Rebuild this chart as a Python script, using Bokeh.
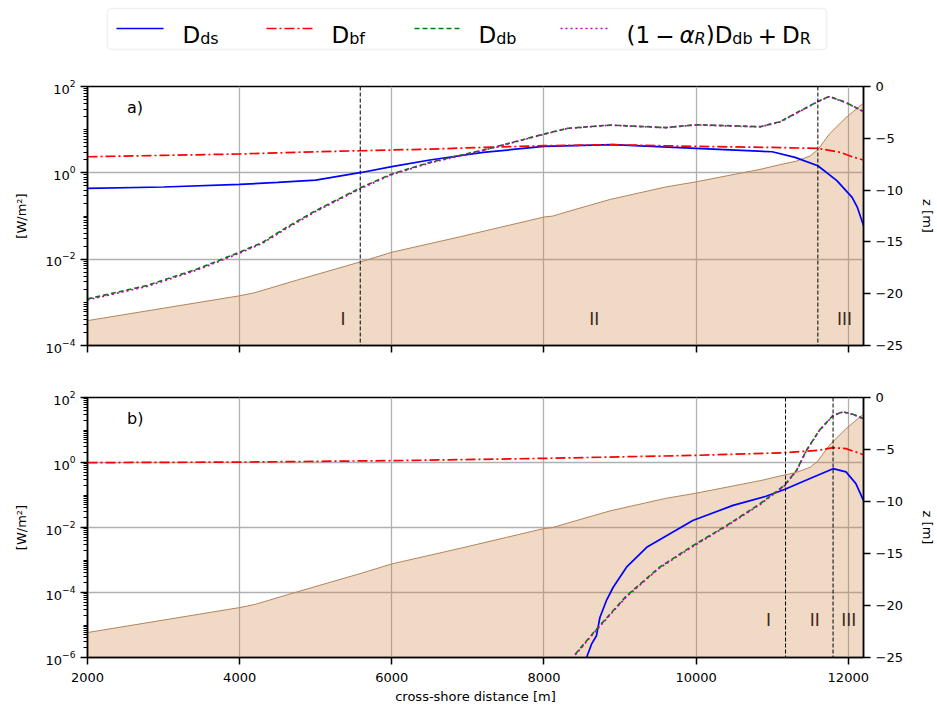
from bokeh.plotting import figure
from bokeh.models import (Range1d, LinearAxis, FixedTicker, Span, BoxAnnotation,
                          CustomJSTickFormatter, LinearScale)
from bokeh.layouts import column
from bokeh.embed import file_html
from bokeh.resources import INLINE
from bokeh.core.properties import value

FONT = "DejaVu Sans"

# ---------------- data ----------------
# bathymetry (shared by both panels), z in m
bath_x = [2000, 4000, 4200, 4750, 5600, 6000, 6900, 8000, 8120, 8300, 8870, 9600,
          10000, 10840, 11100, 11320, 11500, 11600, 11750, 11970, 12200]
bath_z = [-22.6, -20.2, -19.9, -18.7, -16.9, -16.0, -14.5, -12.6, -12.5, -12.1, -10.9, -9.7,
          -9.2, -8.0, -7.55, -7.2, -6.7, -6.1, -4.6, -3.0, -1.6]

# panel a)
a_bf_x = [2000, 3000, 4000, 5000, 5600, 6500, 7200, 8000, 8900, 10000, 11000, 11600, 11900, 12050, 12200]
a_bf_y = [2.36, 2.54, 2.73, 3.08, 3.25, 3.55, 3.88, 4.25, 4.48, 4.10, 3.88, 3.68, 2.97, 2.36, 1.98]

a_ds_x = [2000, 3000, 4000, 4500, 5000, 5600, 6000, 6500, 7200, 8000, 8900, 10000, 11000,
          11300, 11600, 11850, 12050, 12120, 12200]
a_ds_y = [0.436, 0.47, 0.54, 0.60, 0.68, 1.02, 1.39, 1.98, 2.97, 4.09, 4.48, 3.68, 3.08,
          2.28, 1.46, 0.66, 0.27, 0.158, 0.060]

a_db_x = [2000, 2780, 3440, 4000, 4300, 4620, 5000, 5600, 6000, 6500, 7200, 8000, 8300, 8870,
          9600, 10000, 10840, 11100, 11600, 11750, 11970, 12200]
a_db_y = [0.0012, 0.00245, 0.0059, 0.0145, 0.0245, 0.055, 0.133, 0.461, 0.94, 1.75, 3.37, 7.9,
          10.7, 12.8, 11.2, 13.0, 11.7, 15.2, 45.0, 58.7, 42.7, 26.3]
a_dr_y = [0.00114, 0.00233, 0.0056, 0.0138, 0.0233, 0.052, 0.127, 0.44, 0.91, 1.70, 3.30, 7.8,
          10.6, 12.7, 11.1, 12.9, 11.6, 15.0, 44.5, 58.0, 42.3, 26.0]

# panel b)
b_bf_x = [2000, 4000, 6000, 7200, 8000, 10000, 11160, 11600, 11800, 11970, 12200]
b_bf_y = [0.99, 1.03, 1.14, 1.25, 1.34, 1.66, 2.0, 2.37, 2.86, 2.67, 1.74]

b_ds_x = [8560, 8625, 8690, 8735, 8820, 8910, 9085, 9350, 9956, 10485, 10920, 11160, 11490,
          11800, 11970, 12100, 12200]
b_ds_y = [1.0e-6, 2.57e-6, 4.68e-6, 1.7e-5, 5.6e-5, 1.45e-4, 6.0e-4, 2.45e-3, 0.0164, 0.0479,
          0.0912, 0.148, 0.316, 0.646, 0.513, 0.224, 0.0676]

b_db_x = [8410, 8690, 9085, 9520, 9956, 10400, 10840, 11160, 11320, 11450, 11620, 11800, 11930,
          12060, 12200]
b_db_y = [1.26e-6, 7.4e-6, 7.9e-5, 6.0e-4, 2.75e-3, 0.0115, 0.0537, 0.197, 0.575, 2.37, 9.8,
          28.2, 36.3, 30.5, 22.4]
b_dr_y = [1.2e-6, 7.0e-6, 7.5e-5, 5.7e-4, 2.6e-3, 0.011, 0.051, 0.19, 0.56, 2.3, 9.6, 27.8,
          35.9, 30.2, 22.2]

# zone boundaries and zone labels
a_bounds = [5585, 11600]
b_bounds = [11175, 11800]
a_zone_x = [5360, 8660, 11950]
b_zone_x = [10950, 11560, 12005]
zone_text = ["I", "II", "III"]

x_ticks = [2000, 4000, 6000, 8000, 10000, 12000]
z_ticks = [0, -5, -10, -15, -20, -25]

# ---------------- styles ----------------
C_DS, C_BF, C_DB, C_DR = "#0000ff", "#ff0000", "#008000", "#bf00bf"
DASH_BF, DASH_DB, DASH_DR = "10 3 2 3", "5 3", "2 3"
LW = 1.7
TICK_FS = "13px"
FRAME_W = 776
LEFT, RIGHT = 87, 66
FRAME_L = LEFT
FRAME_R = LEFT + FRAME_W


def minor_log(lo, hi):
    out = []
    for e in range(lo, hi):
        for m in range(1, 10):
            v = m * 10.0 ** e
            if m == 1 and (e - lo) % 2 == 0:
                continue
            out.append(v)
    return out


def make_panel(ymin_exp, frame_h, bot_border, top_border, show_xlabels, label,
               bf_x, bf_y, ds_x, ds_y, db_x, db_y, dr_y, bounds, zone_x, zone_z):
    p = figure(frame_width=FRAME_W, frame_height=frame_h,
               x_range=Range1d(2000, 12200), y_range=Range1d(10.0 ** ymin_exp, 100),
               y_axis_type="log", toolbar_location=None, output_backend="svg",
               min_border_left=LEFT, min_border_right=RIGHT,
               min_border_top=top_border, min_border_bottom=bot_border)
    p.extra_y_ranges = {"z": Range1d(-25, 0)}
    p.extra_y_scales = {"z": LinearScale()}

    # bathymetry
    p.varea(x=bath_x, y1=-25, y2=bath_z, y_range_name="z",
            fill_color="peru", fill_alpha=0.3)
    p.line(bath_x, bath_z, y_range_name="z", line_color="#b5835a", line_width=1)

    for b in bounds:
        p.add_layout(Span(location=b, dimension="height", line_color="black",
                          line_width=1, line_dash="4 2"))

    p.line(ds_x, ds_y, line_color=C_DS, line_width=LW)
    p.line(bf_x, bf_y, line_color=C_BF, line_width=LW, line_dash=DASH_BF)
    p.line(db_x, db_y, line_color=C_DB, line_width=LW, line_dash=DASH_DB)
    p.line(db_x, dr_y, line_color=C_DR, line_width=LW, line_dash=DASH_DR)

    p.text(x=zone_x, y=[zone_z] * len(zone_x), text=zone_text, y_range_name="z",
           text_font=value(FONT), text_font_size="17px", text_color="#3d2617",
           text_align="center", text_baseline="middle")
    p.text(x=[2520], y=[-2.0], text=[label], y_range_name="z",
           text_font=value(FONT), text_font_size="16px", text_color="black",
           text_align="left", text_baseline="middle")

    # axes
    maj = [10.0 ** e for e in range(ymin_exp, 3, 2)]
    p.yaxis.ticker = FixedTicker(ticks=maj, minor_ticks=minor_log(ymin_exp, 2))
    p.xaxis.ticker = FixedTicker(ticks=x_ticks)
    zax = LinearAxis(y_range_name="z", axis_label="z [m]",
                     ticker=FixedTicker(ticks=z_ticks),
                     formatter=CustomJSTickFormatter(
                         code="return (tick < 0 ? '\u2212' : '') + Math.abs(tick).toFixed(0)"))
    p.add_layout(zax, "right")
    p.yaxis[0].axis_label = "[W/m\u00b2]"
    if show_xlabels:
        p.xaxis.axis_label = "cross-shore distance [m]"
    else:
        p.xaxis.formatter = CustomJSTickFormatter(code="return ''")
        p.xaxis.major_label_standoff = 0

    for ax in p.axis:
        ax.axis_line_width = 1.5
        ax.axis_line_color = "black"
        ax.major_tick_line_width = 1.5
        ax.major_tick_out = 7
        ax.major_tick_in = 0
        ax.minor_tick_out = 4
        ax.minor_tick_in = 0
        ax.minor_tick_line_width = 1
        ax.major_label_text_font = FONT
        ax.major_label_text_font_size = TICK_FS
        ax.major_label_text_color = "black"
        ax.axis_label_text_font = FONT
        ax.axis_label_text_font_size = TICK_FS
        ax.axis_label_text_font_style = "normal"
        ax.axis_label_text_color = "black"
    p.xaxis.minor_tick_line_color = None
    zax.minor_tick_line_color = None
    p.yaxis[0].axis_label_standoff = 14
    zax.axis_label_standoff = 14
    if show_xlabels:
        p.xaxis.axis_label_standoff = 4
        p.xaxis.major_label_standoff = 8

    p.grid.grid_line_color = "#b0b0b0"
    p.grid.grid_line_width = 1.3
    p.outline_line_color = "black"
    p.outline_line_width = 1.5
    p.background_fill_color = "white"
    p.border_fill_color = "white"
    return p


p1 = make_panel(-4, 259, 26, 8, False, "a)", a_bf_x, a_bf_y, a_ds_x, a_ds_y,
                a_db_x, a_db_y, a_dr_y, a_bounds, a_zone_x, -22.4)
p2 = make_panel(-6, 260, 48, 26, True, "b)", b_bf_x, b_bf_y, b_ds_x, b_ds_y,
                b_db_x, b_db_y, b_dr_y, b_bounds, b_zone_x, -21.4)

# ---------------- legend strip (coordinates = page pixels) ----------------
LEG_H = 78
leg = figure(frame_width=FRAME_W, frame_height=LEG_H,
             x_range=Range1d(FRAME_L, FRAME_R), y_range=Range1d(LEG_H, 0),
             toolbar_location=None, output_backend="svg",
             min_border_left=LEFT, min_border_right=RIGHT, min_border_top=0,
             min_border_bottom=0, x_axis_location=None, y_axis_location=None)
leg.outline_line_color = None
leg.grid.visible = False
leg.background_fill_color = "white"
leg.border_fill_color = "white"
leg.add_layout(BoxAnnotation(left=107, right=826, top=8, bottom=49, level="underlay",
                             fill_color="white", fill_alpha=1, line_color="#cccccc",
                             line_width=1.5, border_radius=4))

LY = 28
samples = [(116, 163, C_DS, "solid"), (266, 312, C_BF, DASH_BF),
           (414, 460, C_DB, DASH_DB), (560, 608, C_DR, DASH_DR)]
for x0, x1, c, d in samples:
    leg.line([x0, x1], [LY, LY], line_color=c, line_width=LW, line_dash=d)

WID = {"D": 0.770, "d": 0.635, "s": 0.521, "b": 0.635, "f": 0.352, "R": 0.695,
       "(": 0.390, ")": 0.390, "1": 0.636, "\u2212": 0.838, "+": 0.838, "\u03b1": 0.654}
BIG, SMALL = 23, 16
SP = 0.22 * BIG
BASE, SUB = 34.5, 38


def seq(x0, items):
    x = x0
    out = []
    for txt, size, style, sub, gap in items:
        x += gap
        out.append((x, txt, size, style, SUB if sub else BASE))
        x += sum(WID[ch] for ch in txt) * size
    return out


rows = []
rows += seq(182, [("D", BIG, "normal", False, 0), ("ds", SMALL, "normal", True, 0)])
rows += seq(331, [("D", BIG, "normal", False, 0), ("bf", SMALL, "normal", True, 0)])
rows += seq(478, [("D", BIG, "normal", False, 0), ("db", SMALL, "normal", True, 0)])
rows += seq(626, [("(1", BIG, "normal", False, 0), ("\u2212", BIG, "normal", False, SP),
                  ("\u03b1", BIG, "italic", False, SP), ("R", SMALL, "italic", True, 0),
                  (")D", BIG, "normal", False, 0), ("db", SMALL, "normal", True, 0),
                  ("+", BIG, "normal", False, SP), ("D", BIG, "normal", False, SP),
                  ("R", SMALL, "normal", True, 0)])

for size in (BIG, SMALL):
    for style in ("normal", "italic"):
        sel = [r for r in rows if r[2] == size and r[3] == style]
        if not sel:
            continue
        leg.text(x=[r[0] for r in sel], y=[r[4] for r in sel], text=[r[1] for r in sel],
                 text_font=value(FONT), text_font_size="%dpx" % size,
                 text_font_style=style, text_color="black",
                 text_align="left", text_baseline="alphabetic")

layout = column(leg, p1, p2)
open("out.html", "w").write(file_html(layout, INLINE))
